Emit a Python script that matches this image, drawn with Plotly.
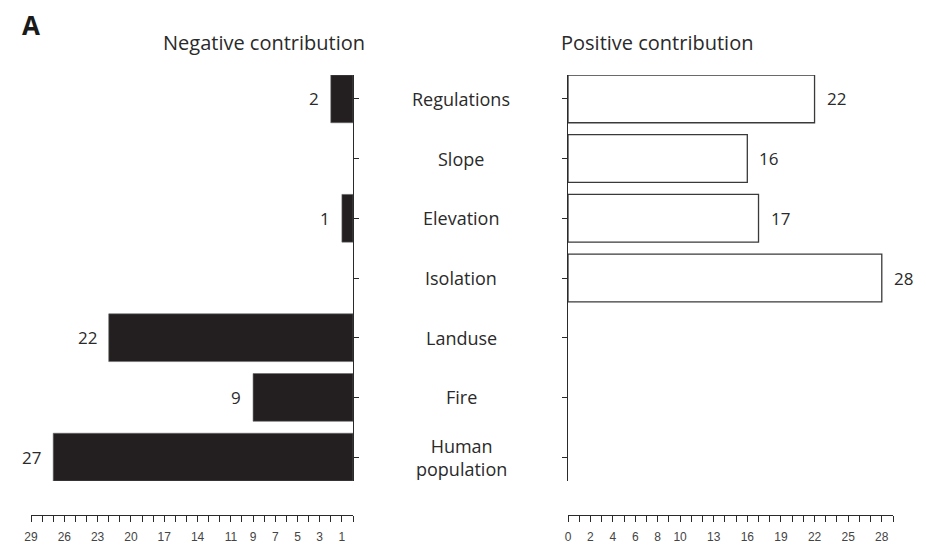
import plotly.graph_objects as go

# ---- data ----
categories = ["Regulations", "Slope", "Elevation", "Isolation", "Landuse", "Fire", "Human population"]
category_labels = ["Regulations", "Slope", "Elevation", "Isolation", "Landuse", "Fire", "Human<br>population"]
negative = [2, None, 1, None, 22, 9, 27]
positive = [22, 16, 17, 28, None, None, None]

neg_tickvals = list(range(0, 30))
neg_ticklabels = {29: "29", 26: "26", 23: "23", 20: "20", 17: "17", 14: "14",
                  11: "11", 9: "9", 7: "7", 5: "5", 3: "3", 1: "1"}
pos_tickvals = list(range(0, 30))
pos_ticklabels = {0: "0", 2: "2", 4: "4", 6: "6", 8: "8", 10: "10",
                  13: "13", 16: "16", 19: "19", 22: "22", 25: "25", 28: "28"}

W, H = 926, 547
def px(x): return x / W
def py(y): return 1 - y / H

LABEL_FONT = "Open Sans, Noto Sans, sans-serif"
TICK_FONT = "Liberation Sans, Arial, sans-serif"
TEXT_COLOR = "#2a2a2a"

fig = go.Figure()
fig.add_trace(go.Bar(
    y=categories, x=negative, orientation="h", xaxis="x", yaxis="y",
    marker=dict(color="#231f20", line=dict(color="#6a6a6a", width=0.6)),
    width=0.8, showlegend=False, hoverinfo="x+y",
))
fig.add_trace(go.Bar(
    y=categories, x=positive, orientation="h", xaxis="x2", yaxis="y2",
    marker=dict(color="white", line=dict(color="#3a3a3a", width=1.3)),
    width=0.8, showlegend=False, hoverinfo="x+y",
))

annotations = []
for cat, v in zip(categories, negative):
    if v:
        annotations.append(dict(x=v, y=cat, xref="x", yref="y", text=str(v),
                                showarrow=False, xanchor="right", xshift=-10,
                                font=dict(family=LABEL_FONT, size=17, color=TEXT_COLOR)))
for cat, v in zip(categories, positive):
    if v:
        annotations.append(dict(x=v, y=cat, xref="x2", yref="y2", text=str(v),
                                showarrow=False, xanchor="left", xshift=10,
                                font=dict(family=LABEL_FONT, size=17, color=TEXT_COLOR)))
for cat, lab in zip(categories, category_labels):
    annotations.append(dict(x=px(461), y=cat, xref="paper", yref="y", text=lab,
                            showarrow=False, xanchor="center", yanchor="middle",
                            font=dict(family=LABEL_FONT, size=18, color=TEXT_COLOR)))
annotations += [
    dict(x=px(20), y=py(25), xref="paper", yref="paper", text="<b>A</b>",
         showarrow=False, xanchor="left", yanchor="middle",
         font=dict(family=LABEL_FONT, size=26, color="#1a1a1a")),
    dict(x=px(264), y=py(42), xref="paper", yref="paper", text="Negative contribution",
         showarrow=False, xanchor="center", yanchor="middle",
         font=dict(family=LABEL_FONT, size=20, color=TEXT_COLOR)),
    dict(x=px(657), y=py(42), xref="paper", yref="paper", text="Positive contribution",
         showarrow=False, xanchor="center", yanchor="middle",
         font=dict(family=LABEL_FONT, size=20, color=TEXT_COLOR)),
]

common_x = dict(showgrid=False, zeroline=False, showline=True, linecolor="#2a2a2a",
                linewidth=1.2, ticks="outside", ticklen=6, tickwidth=1, tickcolor="#2a2a2a",
                anchor="free", position=py(515), tickmode="array", automargin=False,
                tickfont=dict(family=TICK_FONT, size=12, color="#444444"), ticklabelstandoff=4)
common_y = dict(showgrid=False, zeroline=False, showline=True, linecolor="#2a2a2a",
                linewidth=1.2, ticks="outside", ticklen=5, tickwidth=1, tickcolor="#2a2a2a",
                showticklabels=False, automargin=False,
                range=[6.4, -0.4], domain=[py(481), py(75)])

fig.update_layout(
    width=W, height=H, margin=dict(l=0, r=0, t=0, b=0, pad=0, autoexpand=False),
    paper_bgcolor="white", plot_bgcolor="white", bargap=0.2,
    xaxis=dict(common_x, domain=[px(31), px(353)], range=[29, 0],
               tickvals=neg_tickvals, ticktext=[neg_ticklabels.get(v, "") for v in neg_tickvals]),
    xaxis2=dict(common_x, domain=[px(568), px(893)], range=[0, 29],
                tickvals=pos_tickvals, ticktext=[pos_ticklabels.get(v, "") for v in pos_tickvals]),
    yaxis=dict(common_y, anchor="x", side="right"),
    yaxis2=dict(common_y, anchor="x2", side="left"),
    annotations=annotations,
)

fig.write_html("out.html")
